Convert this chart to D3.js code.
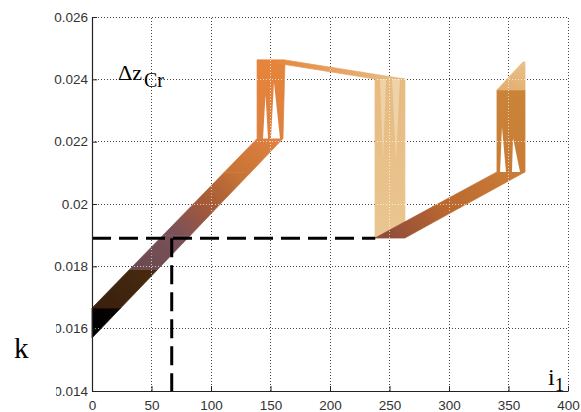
<!DOCTYPE html>
<html>
<head>
<meta charset="utf-8">
<script src="https://cdn.jsdelivr.net/npm/d3@7"></script>
<style>
  html, body { margin: 0; padding: 0; background: #ffffff; }
  svg { display: block; }
</style>
</head>
<body>
<svg id="chart" width="581" height="412"></svg>
<script>
// ---- axis ticks ----
const xTicks = [0, 50, 100, 150, 200, 250, 300, 350, 400];
const yTicks = [0.014, 0.016, 0.018, 0.02, 0.022, 0.024, 0.026];
const yTickLabels = ["0.014", "0.016", "0.018", "0.02", "0.022", "0.024", "0.026"];

// ---- k(i1) surface ribbon: cross-sections at the two Δz edges (A and B) ----
// repeated sections mark a sharp change of colour value
const secIA  = [0, 0, 0, 31.6, 31.6, 59.7, 85.2, 110.7, 138.7, 138.7, 237.8, 237.8, 237.8, 285.7, 340.3, 340.3, 340.3, 362.2];
const secKA  = [0.0157, 0.01666, 0.01666, 0.0179, 0.0179, 0.0190, 0.0200, 0.0210, 0.0221, 0.02462, 0.02401, 0.01891, 0.01891, 0.0199, 0.02103, 0.02366, 0.02366, 0.02456];
const secIB  = [0, 24.1, 24.1, 55.2, 55.2, 82.8, 107.8, 133.0, 160.5, 162.2, 263.0, 263.0, 263.0, 310.1, 363.9, 363.9, 363.9, 363.9];
const secKB  = [0.0157, 0.01666, 0.01666, 0.0179, 0.0179, 0.0190, 0.0200, 0.0210, 0.0221, 0.02462, 0.02401, 0.01891, 0.01891, 0.0199, 0.02103, 0.02366, 0.02366, 0.02456];
const secVal = [0.00, 0.02, 0.10, 0.13, 0.20, 0.26, 0.40, 0.58, 0.72, 0.75, 0.95, 1.00, 0.32, 0.50, 0.60, 0.62, 0.90, 0.98];

// ---- slits in the vertical steps of the surface (null value = open) ----
const slitI = [
  [143.7, 147.9, 145.8],
  [150.4, 158.0, 152.9],
  [242.0, 247.1, 244.5],
  [252.1, 258.8, 255.5],
  [342.9, 347.9, 344.5],
  [352.9, 359.7, 353.8]
];
const slitK = [
  [0.0221, 0.0221, 0.0235],
  [0.0221, 0.0221, 0.02391],
  [0.02401, 0.02401, 0.02141],
  [0.02401, 0.02401, 0.0214],
  [0.02103, 0.02103, 0.02247],
  [0.02103, 0.02103, 0.02212]
];
const slitVal = [null, null, 1.07, 1.07, null, null];

// ---- operating point ----
const opK = 0.0189;
const opI = 67;
const opIEnd = 238;

// ---- colour map of the surface ----
const cmapStops  = [0.00, 0.02, 0.10, 0.13, 0.20, 0.26, 0.30, 0.40, 0.50, 0.58, 0.62, 0.72, 0.75, 0.88, 1.00, 1.15];
const cmapColors = ["#000000", "#060302", "#3a200e", "#46290f", "#6c4b4f", "#7b5059", "#8c4a3c", "#a55a38",
                    "#bb682f", "#c87436", "#c98438", "#dd8040", "#e6843a", "#e3aa6c", "#eac690", "#f5e2c4"];
const cmap = d3.scaleLinear().domain(cmapStops).range(cmapColors).interpolate(d3.interpolateRgb).clamp(true);

const svg = d3.select("#chart");
const x = d3.scaleLinear().domain([0, 400]).range([92, 568]);
const y = d3.scaleLinear().domain([0.014, 0.026]).range([391, 17]);
const defs = svg.append("defs");

// dotted grid
function drawGrid(g, colour, opacity) {
  g.selectAll("line.gx").data(xTicks.filter(d => d > 0)).join("line")
    .attr("class", "gx")
    .attr("x1", d => x(d)).attr("x2", d => x(d))
    .attr("y1", y(0.014)).attr("y2", y(0.026));
  g.selectAll("line.gy").data(yTicks.filter(d => d > 0.014)).join("line")
    .attr("class", "gy")
    .attr("x1", x(0)).attr("x2", x(400))
    .attr("y1", d => y(d)).attr("y2", d => y(d));
  g.selectAll("line")
    .attr("stroke", colour).attr("stroke-opacity", opacity)
    .attr("stroke-width", 1).attr("stroke-dasharray", "1,2")
    .attr("shape-rendering", "crispEdges");
}
drawGrid(svg.append("g"), "#444", 1);

// surface ribbon built from consecutive cross-sections
const sections = secIA.map((_, j) => ({
  a: [x(secIA[j]), y(secKA[j])],
  b: [x(secIB[j]), y(secKB[j])],
  v: secVal[j]
}));
const mid = s => [(s.a[0] + s.b[0]) / 2, (s.a[1] + s.b[1]) / 2];
const quads = d3.pairs(sections).filter(([s, t]) => {
  const m0 = mid(s), m1 = mid(t);
  return Math.hypot(m1[0] - m0[0], m1[1] - m0[1]) > 0.01;
});
const quadPath = ([s, t]) => `M${s.a}L${s.b}L${t.b}L${t.a}Z`;

quads.forEach(([s, t], n) => {
  const m0 = mid(s), m1 = mid(t);
  const gr = defs.append("linearGradient")
    .attr("id", "qg" + n)
    .attr("gradientUnits", "userSpaceOnUse")
    .attr("x1", m0[0]).attr("y1", m0[1])
    .attr("x2", m1[0]).attr("y2", m1[1]);
  gr.append("stop").attr("offset", 0).attr("stop-color", cmap(s.v));
  gr.append("stop").attr("offset", 1).attr("stop-color", cmap(t.v));
});

const surf = svg.append("g");
surf.selectAll("path").data(quads).join("path")
  .attr("d", quadPath)
  .attr("fill", (d, n) => `url(#qg${n})`)
  .attr("stroke", (d, n) => `url(#qg${n})`)
  .attr("stroke-width", 0.7)
  .attr("stroke-linejoin", "round");

// slits
svg.append("g").selectAll("path").data(slitI.map((pi, j) => ({ pi, pk: slitK[j], v: slitVal[j] })))
  .join("path")
  .attr("d", d => "M" + d.pi.map((v, m) => [x(v), y(d.pk[m])]).join("L") + "Z")
  .attr("fill", d => d.v === null ? "#ffffff" : cmap(d.v));

// grid seen over the surface
const clip = defs.append("clipPath").attr("id", "surfClip");
clip.selectAll("path").data(quads).join("path").attr("d", quadPath);
drawGrid(svg.append("g").attr("clip-path", "url(#surfClip)"), "#ffffff", 0.7);

// operating point reference lines
const line = d3.line().x(d => x(d[0])).y(d => y(d[1]));
const dashed = svg.append("g")
  .attr("fill", "none").attr("stroke", "#000").attr("stroke-width", 3)
  .attr("stroke-dasharray", "19,8");
dashed.append("path").attr("d", line([[0, opK], [opIEnd, opK]]));
dashed.append("path").attr("d", line([[opI, opK], [opI, 0.014]]));

// axes
const xAxis = d3.axisBottom(x).tickValues(xTicks).tickFormat(d3.format("d"))
  .tickSizeInner(-5).tickSizeOuter(0).tickPadding(9);
const yAxis = d3.axisLeft(y).tickValues(yTicks).tickFormat((d, n) => yTickLabels[n])
  .tickSizeInner(-5).tickSizeOuter(0).tickPadding(4);

const gx = svg.append("g").attr("transform", `translate(0,${y(0.014)})`).call(xAxis);
const gy = svg.append("g").attr("transform", `translate(${x(0)},0)`).call(yAxis);
[gx, gy].forEach(g => {
  g.select(".domain").attr("stroke", "#222").attr("stroke-width", 1.2);
  g.selectAll(".tick line").attr("stroke", "#222").attr("stroke-width", 1);
  g.selectAll(".tick text")
    .attr("fill", "#333")
    .style("font-family", "'Liberation Sans', Arial, sans-serif")
    .style("font-size", "13.5px");
});

// axis names
const serif = "'Liberation Serif', 'Times New Roman', serif";
const kLabel = svg.append("g");
kLabel.append("rect").attr("x", 0).attr("y", 300).attr("width", 56).attr("height", 112).attr("fill", "#ffffff");
kLabel.append("text").attr("x", 14).attr("y", 358)
  .style("font-family", serif).style("font-size", "29px").attr("fill", "#000").text("k");

const iLabel = svg.append("text").attr("x", 548).attr("y", 385)
  .style("font-family", serif).style("font-size", "24px").attr("fill", "#000");
iLabel.append("tspan").text("i");
iLabel.append("tspan").attr("dy", 6).style("font-size", "19px").text("1");

const dzLabel = svg.append("text").attr("x", 118).attr("y", 80)
  .style("font-family", serif).style("font-size", "22px").attr("fill", "#000");
dzLabel.append("tspan").text("Δz");
dzLabel.append("tspan").attr("dx", 2).attr("dy", 7).style("font-size", "20px").text("Cr");
</script>
</body>
</html>
